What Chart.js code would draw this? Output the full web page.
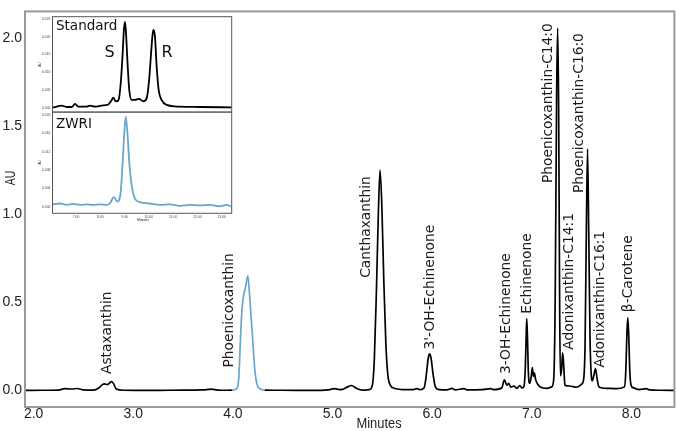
<!DOCTYPE html>
<html><head><meta charset="utf-8">
<script src="https://cdn.jsdelivr.net/npm/chart.js@4.4.1/dist/chart.umd.min.js"></script>
<style>
html,body{margin:0;padding:0;background:#fff;}
#wrap{position:relative;width:677px;height:431px;overflow:hidden;background:#fff;}
canvas{position:absolute;display:block;}
</style></head><body>
<div id="wrap">
<canvas id="main" width="677" height="431" style="left:0;top:0;width:677px;height:431px"></canvas>
<canvas id="insetTop" width="198" height="104" style="left:38px;top:12px;width:198px;height:104px"></canvas>
<canvas id="insetBot" width="198" height="120" style="left:38px;top:108px;width:198px;height:120px"></canvas>
</div>
<script>
// ---------- main chromatogram (Minutes vs AU) ----------
const mainTimes = [1.91,2.10,2.25,2.31,2.38,2.44,2.50,2.60,2.65,2.69,2.71,2.74,2.78,2.80,2.83,2.90,3.20,3.50,3.70,3.78,3.85,3.95,
  3.99,4.04,4.06,4.075,4.09,4.105,4.125,4.15,4.165,4.18,4.195,4.21,4.225,4.245,4.27,4.30,4.32,
  4.50,4.80,4.95,5.02,5.07,5.10,5.15,5.19,5.24,5.30,5.37,
  5.40,5.42,5.44,5.46,5.477,5.495,5.515,5.535,5.555,5.58,5.62,5.70,5.80,5.85,5.88,
  5.92,5.94,5.96,5.975,5.99,6.01,6.03,6.06,6.15,6.20,6.23,6.32,6.35,6.50,6.59,6.62,
  6.70,6.725,6.75,6.77,6.79,6.82,6.85,6.88,6.90,6.92,6.935,6.945,6.95,6.957,6.967,6.98,
  6.995,7.006,7.016,7.026,7.04,7.06,7.09,7.15,7.20,7.22,7.235,7.25,7.26,7.27,7.28,7.287,
  7.30,7.31,7.32,7.333,7.38,7.45,7.50,7.52,7.535,7.548,7.56,7.572,7.585,7.60,7.608,
  7.625,7.64,7.655,7.675,7.75,7.85,7.93,7.945,7.955,7.964,7.973,7.985,7.997,8.02,8.08,8.15,8.18,8.30,8.43];
const mainAU = [0.000,0.001,0.002,0.010,0.008,0.011,0.003,0.002,0.012,0.033,0.037,0.033,0.050,0.040,0.008,0.001,0.000,0.002,0.003,0.007,0.002,0.001,
  0.002,0.010,0.080,0.280,0.450,0.530,0.580,0.650,0.560,0.440,0.320,0.190,0.090,0.030,0.010,0.004,0.002,
  0.001,0.000,0.003,0.010,0.005,0.006,0.020,0.028,0.012,0.002,0.005,
  0.030,0.180,0.550,1.000,1.250,1.050,0.620,0.270,0.090,0.030,0.012,0.005,0.004,0.010,0.004,
  0.015,0.080,0.180,0.207,0.180,0.090,0.025,0.006,0.003,0.012,0.003,0.010,0.003,0.004,0.010,0.004,
  0.015,0.060,0.030,0.040,0.018,0.025,0.012,0.028,0.015,0.020,0.120,0.330,0.407,0.300,0.090,0.040,
  0.080,0.130,0.080,0.100,0.060,0.035,0.018,0.012,0.020,0.060,0.500,1.700,2.055,1.600,0.500,0.083,
  0.120,0.213,0.150,0.030,0.025,0.018,0.035,0.060,0.250,0.900,1.370,0.900,0.300,0.070,0.055,
  0.090,0.124,0.070,0.020,0.012,0.010,0.020,0.120,0.320,0.413,0.320,0.100,0.030,0.015,0.005,0.010,0.003,0.001,0.000];
const xTickValues = [2,3,4,5,6,7,8];
const yTickValues = [0,0.5,1.0,1.5,2.0];

// peak annotations
const peakNames = ['Astaxanthin','Phoenicoxanthin','Canthaxanthin',"3'-OH-Echinenone",'3-OH-Echinenone','Echinenone',
  'Phoenicoxanthin-C14:0','Adonixanthin-C14:1','Phoenicoxanthin-C16:0','Adonixanthin-C16:1','β-Carotene'];
const peakLabelTimes = [2.74,3.97,5.343,5.98,6.75,6.96,7.167,7.376,7.478,7.686,7.97];
const peakLabelAU = [0.093,0.13,0.639,0.232,0.093,0.435,1.176,0.231,1.12,0.13,0.444];

// ---------- inset: Standard (S/R) ----------
const stdTimes = [6.03,6.06,6.41,6.61,6.82,6.96,7.09,7.44,7.57,7.78,8.05,8.33,8.47,8.53,8.64,8.75,8.84,8.92,8.97,9.01,9.05,9.12,9.19,9.29,9.42,9.59,9.77,9.91,10.01,10.10,10.15,10.19,10.25,10.32,10.40,10.52,10.73,11.28,12.10,13.41];
const stdSignal = [0.0001,0.0001,0.0006,0.0002,0.0002,0.0011,0.0003,0.0003,0.0006,0.0003,0.0006,0.0009,0.0022,0.0028,0.0018,0.0022,0.0069,0.0154,0.0219,0.0242,0.0219,0.0126,0.0051,0.0022,0.0022,0.0025,0.0018,0.0027,0.0079,0.0163,0.0205,0.0219,0.0200,0.0116,0.0051,0.0022,0.0008,0.0003,0.0002,0.0001];
const stdYTicks = [0,0.005,0.010,0.015,0.020,0.025];

// ---------- inset: ZWRI ----------
const zwriTimes = [6.03,6.06,6.34,6.61,6.89,7.16,7.44,7.71,7.98,8.26,8.40,8.56,8.70,8.84,8.92,8.99,9.05,9.12,9.19,9.29,9.42,9.63,10.04,10.45,10.87,11.28,11.69,12.10,12.51,12.92,13.20,13.41];
const zwriSignal = [0.0005,0.0005,0.0007,0.0004,0.0006,0.0004,0.0005,0.0004,0.0005,0.0004,0.0008,0.0021,0.0011,0.0033,0.0098,0.0164,0.0197,0.0158,0.0098,0.0047,0.0018,0.0010,0.0007,0.0004,0.0005,0.0002,0.0004,0.0003,0.0004,0.0001,0.0004,0.0000];
const zwriYTicks = [0,0.004,0.008,0.012,0.016,0.020];
const insetXTicks = [7,8,9,10,11,12,13];

// ---------- styling ----------
const BLUE = '#6aa6c6';
const BLUE_FROM = 3.99, BLUE_TO = 4.32;

const framePlugin = {
  id:'frame',
  beforeDraw(chart, args, opts){
    const a = chart.chartArea, c = chart.ctx;
    if (opts.fill){ c.save(); c.fillStyle = opts.fill; c.fillRect(a.left,a.top,a.right-a.left,a.bottom-a.top); c.restore(); }
  },
  afterDraw(chart, args, opts){
    const a = chart.chartArea, c = chart.ctx;
    c.save(); c.strokeStyle = opts.color; c.lineWidth = opts.width;
    c.strokeRect(a.left, a.top, a.right-a.left, a.bottom-a.top);
    c.restore();
  }
};

const peakLabelPlugin = {
  id:'peakLabels',
  afterDatasetsDraw(chart){
    const c = chart.ctx, xs = chart.scales.x, ys = chart.scales.y;
    c.save();
    c.font = '13.8px "DejaVu Sans", sans-serif';
    c.fillStyle = '#1a1a1a';
    peakNames.forEach((name,i)=>{
      const x = xs.getPixelForValue(peakLabelTimes[i]);
      const y = ys.getPixelForValue(peakLabelAU[i]);
      c.save(); c.translate(x,y); c.rotate(-Math.PI/2);
      c.textAlign='left'; c.textBaseline='middle';
      c.fillText(name,0,0);
      c.restore();
    });
    c.restore();
  }
};

const mainTitles = {
  id:'mainTitles',
  afterDraw(chart){
    const c = chart.ctx, a = chart.chartArea;
    c.save(); c.fillStyle = '#222';
    c.font = '15px "Liberation Sans", Arial, sans-serif';
    c.textAlign='center'; c.textBaseline='alphabetic';
    c.save(); c.translate(379, 428); c.scale(0.86,1); c.fillText('Minutes',0,0); c.restore();
    c.save(); c.translate(a.left-10, 178); c.rotate(-Math.PI/2); c.scale(0.75,1);
    c.font = '14px "Liberation Sans", Arial, sans-serif'; c.fillText('AU',0,0); c.restore();
    c.restore();
  }
};

new Chart(document.getElementById('main'), {
  type:'line',
  data:{ datasets:[{
    data: mainTimes.map((t,i)=>({x:t, y:mainAU[i]})),
    borderColor:'#000', borderWidth:1.7, pointRadius:0, fill:false,
    cubicInterpolationMode:'monotone',
    segment:{ borderColor: ctx => (ctx.p0.parsed.x >= BLUE_FROM - 1e-9 && ctx.p1.parsed.x <= BLUE_TO + 1e-9) ? BLUE : '#000' }
  }]},
  options:{
    responsive:false, devicePixelRatio:1, animation:false,
    layout:{ padding:{ top:3, right:2.6, left:0, bottom:0 } },
    plugins:{ legend:{display:false}, tooltip:{enabled:false}, frame:{ color:'#9a9a9a', width:2 } },
    scales:{
      x:{ type:'linear', min:1.913, max:8.432,
        afterBuildTicks: s => { s.ticks = xTickValues.map(v=>({value:v})); },
        afterFit: s => { s.height = 24; },
        grid:{ display:false, drawTicks:false }, border:{ display:false },
        ticks:{ autoSkip:false, maxRotation:0, padding:-1, color:'#222',
          font:{ family:'"Liberation Sans", Arial, sans-serif', size:14 },
          callback: v => Number(v).toFixed(1) } },
      y:{ type:'linear', min:-0.094, max:2.15,
        afterBuildTicks: s => { s.ticks = yTickValues.map(v=>({value:v})); },
        afterFit: s => { s.width = 25; },
        grid:{ display:false, drawTicks:false }, border:{ display:false },
        ticks:{ autoSkip:false, padding:3, color:'#222',
          font:{ family:'"Liberation Sans", Arial, sans-serif', size:14 },
          callback: v => Number(v).toFixed(1) } }
    }
  },
  plugins:[framePlugin, peakLabelPlugin, mainTitles]
});

// ---------- insets ----------
function insetTexts(items){
  return { id:'insetTexts', afterDraw(chart){
    const c = chart.ctx, a = chart.chartArea;
    c.save(); c.fillStyle = '#111';
    items.forEach(it=>{
      c.font = it.font; c.textAlign = it.align || 'left'; c.textBaseline = it.baseline || 'alphabetic';
      c.save(); c.translate(a.left + it.dx, a.top + it.dy);
      if (it.rot) c.rotate(it.rot);
      c.fillText(it.text,0,0); c.restore();
    });
    c.restore();
  }};
}

function makeInset(id, times, vals, color, yMin, yMax, yTicks, showX, pad, xHeight, texts){
  return new Chart(document.getElementById(id), {
    type:'line',
    data:{ datasets:[{ data: times.map((t,i)=>({x:t,y:vals[i]})), borderColor:color, borderWidth:1.8,
      pointRadius:0, cubicInterpolationMode:'monotone', fill:false }]},
    options:{
      responsive:false, devicePixelRatio:1, animation:false,
      layout:{ padding: pad },
      plugins:{ legend:{display:false}, tooltip:{enabled:false}, frame:{ color:'#555', width:1, fill:'#fff' } },
      scales:{
        x:{ type:'linear', min:6.03, max:13.41, display: showX,
          afterBuildTicks: s => { s.ticks = insetXTicks.map(v=>({value:v})); },
          afterFit: s => { s.height = xHeight; },
          grid:{ display:false, drawTicks:false }, border:{ display:false },
          ticks:{ autoSkip:false, maxRotation:0, padding:2, color:'#444',
            font:{ family:'"Liberation Sans", Arial, sans-serif', size:3.4 },
            callback: v => Number(v).toFixed(2) } },
        y:{ type:'linear', min:yMin, max:yMax,
          afterBuildTicks: s => { s.ticks = yTicks.map(v=>({value:v})); },
          afterFit: s => { s.width = 14.5; },
          grid:{ display:false, drawTicks:false }, border:{ display:false },
          ticks:{ autoSkip:false, padding:2, color:'#444',
            font:{ family:'"Liberation Sans", Arial, sans-serif', size:3.4 },
            callback: v => Number(v).toFixed(3) } }
      }
    },
    plugins:[framePlugin, insetTexts(texts)]
  });
}

makeInset('insetTop', stdTimes, stdSignal, '#000', -0.0012, 0.02565, stdYTicks, false,
  { top:4.7, right:4.3, bottom:3.7, left:0 }, 0, [
    { text:'Standard', font:'13.5px "DejaVu Sans", sans-serif', dx:3.5, dy:13 },
    { text:'S', font:'16px "DejaVu Sans", sans-serif', dx:52, dy:40 },
    { text:'R', font:'16px "DejaVu Sans", sans-serif', dx:109, dy:40 },
    { text:'AU', font:'3px "Liberation Sans", sans-serif', dx:-11.5, dy:48, rot:-Math.PI/2, align:'center' }
  ]);

makeInset('insetBot', zwriTimes, zwriSignal, BLUE, -0.00144, 0.02063, zwriYTicks, true,
  { top:4.3, right:4.3, bottom:0, left:0 }, 14.7, [
    { text:'ZWRI', font:'13.5px "DejaVu Sans", sans-serif', dx:3.5, dy:15.5 },
    { text:'AU', font:'3px "Liberation Sans", sans-serif', dx:-11.5, dy:50, rot:-Math.PI/2, align:'center' },
    { text:'Minutes', font:'3.4px "Liberation Sans", sans-serif', dx:90.5, dy:109, align:'center' }
  ]);
</script>
</body></html>
